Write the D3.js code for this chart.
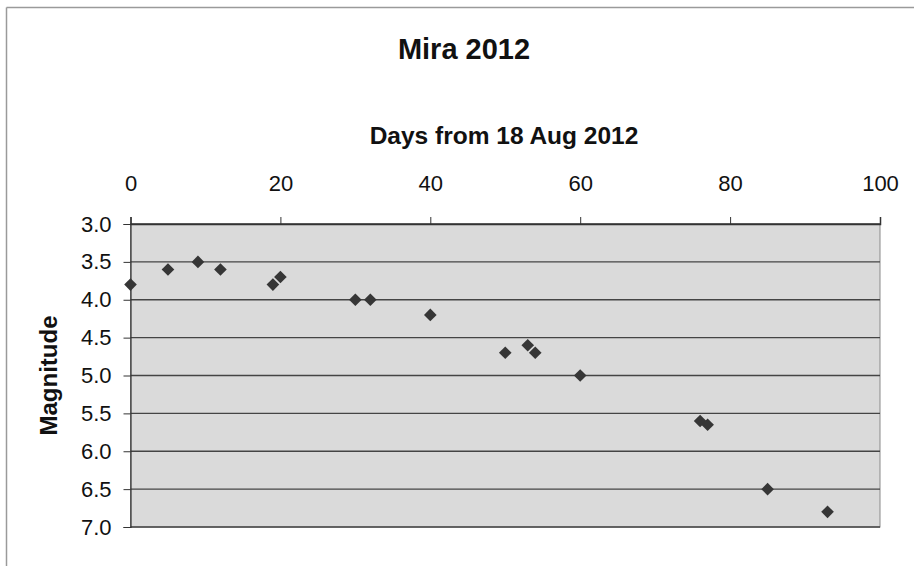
<!DOCTYPE html>
<html>
<head>
<meta charset="utf-8">
<script src="https://cdn.jsdelivr.net/npm/d3@7"></script>
<style>
  html, body { margin: 0; padding: 0; background: #fff; }
  svg { display: block; font-family: "Liberation Sans", Arial, sans-serif; }
</style>
</head>
<body>
<svg id="chart" width="914" height="566"></svg>
<script>
const title = "Mira 2012";
const xTitle = "Days from 18 Aug 2012";
const yTitle = "Magnitude";
const days = [0, 5, 9, 12, 19, 20, 30, 32, 40, 50, 53, 54, 60, 76, 77, 85, 93];
const magnitudes = [3.8, 3.6, 3.5, 3.6, 3.8, 3.7, 4.0, 4.0, 4.2, 4.7, 4.6, 4.7, 5.0, 5.6, 5.65, 6.5, 6.8];
const xTicks = [0, 20, 40, 60, 80, 100];
const yTicks = [3.0, 3.5, 4.0, 4.5, 5.0, 5.5, 6.0, 6.5, 7.0];

const svg = d3.select("#chart");
const plot = { left: 130.5, right: 880, top: 224, bottom: 527 };

const x = d3.scaleLinear().domain([0, 100]).range([plot.left, plot.right]);
const y = d3.scaleLinear().domain([3.0, 7.0]).range([plot.top, plot.bottom]);

// outer frame (top and left edges)
svg.append("line").attr("x1", 6.5).attr("x2", 914).attr("y1", 7.5).attr("y2", 7.5)
  .attr("stroke", "#9a9a9a").attr("stroke-width", 1.5);
svg.append("line").attr("x1", 6.5).attr("x2", 6.5).attr("y1", 7.5).attr("y2", 566)
  .attr("stroke", "#9a9a9a").attr("stroke-width", 1.5);

// plot background
svg.append("rect")
  .attr("x", plot.left).attr("y", plot.top)
  .attr("width", plot.right - plot.left).attr("height", plot.bottom - plot.top)
  .attr("fill", "#dadada")
  .attr("stroke", "#8a8a8a").attr("stroke-width", 1);

// gridlines
svg.append("g").selectAll("line").data(yTicks).join("line")
  .attr("x1", plot.left).attr("x2", plot.right)
  .attr("y1", d => y(d)).attr("y2", d => y(d))
  .attr("stroke", "#444").attr("stroke-width", 1.3);

// top x axis
const xAxis = svg.append("g")
  .attr("transform", `translate(0,${plot.top})`)
  .call(d3.axisTop(x).tickValues(xTicks).tickFormat(d3.format("d")).tickSize(7).tickPadding(26));
xAxis.select(".domain").attr("stroke", "#333").attr("stroke-width", 1.5);
xAxis.selectAll(".tick line").attr("stroke", "#333");
xAxis.selectAll("text").attr("font-size", 22).attr("fill", "#111")
  .attr("font-family", "'Liberation Sans', Arial, sans-serif");

// left y axis
const yAxis = svg.append("g")
  .attr("transform", `translate(${plot.left},0)`)
  .call(d3.axisLeft(y).tickValues(yTicks).tickFormat(d3.format(".1f")).tickSize(7).tickPadding(12));
yAxis.select(".domain").attr("stroke", "#333").attr("stroke-width", 1.2);
yAxis.selectAll(".tick line").attr("stroke", "#333");
yAxis.selectAll("text").attr("font-size", 22).attr("fill", "#111")
  .attr("font-family", "'Liberation Sans', Arial, sans-serif");

// points (diamonds)
svg.append("g").selectAll("path").data(days.map((d, i) => [d, magnitudes[i]])).join("path")
  .attr("d", d3.symbol().type(d3.symbolSquare).size(80))
  .attr("transform", d => `translate(${x(d[0])},${y(d[1])}) rotate(45)`)
  .attr("fill", "#363636");

// titles
svg.append("text").attr("x", 464).attr("y", 59)
  .attr("text-anchor", "middle").attr("font-size", 29).attr("font-weight", "bold")
  .attr("fill", "#111").text(title);
svg.append("text").attr("x", 504).attr("y", 144)
  .attr("text-anchor", "middle").attr("font-size", 24.5).attr("font-weight", "bold")
  .attr("fill", "#111").text(xTitle);
svg.append("text")
  .attr("transform", `translate(57,${(plot.top + plot.bottom) / 2}) rotate(-90)`)
  .attr("text-anchor", "middle").attr("font-size", 24).attr("font-weight", "bold")
  .attr("fill", "#111").text(yTitle);
</script>
</body>
</html>
